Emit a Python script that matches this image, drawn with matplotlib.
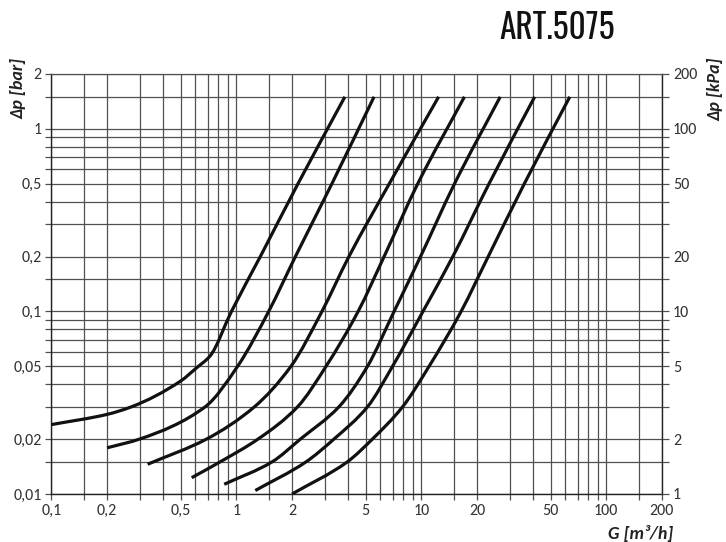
import numpy as np
import matplotlib
matplotlib.use('Agg')
import matplotlib.pyplot as plt
from matplotlib.ticker import FixedLocator, NullFormatter
from matplotlib.path import Path
from matplotlib.patches import PathPatch

# flow G [m3/h] and pressure drop dp [bar]
flow_1 = [0.1, 0.2, 0.27, 0.5, 0.61, 0.72, 0.94, 1.347, 2.15, 3.86]
dp_1 = [0.024, 0.0273, 0.030, 0.0416, 0.0492, 0.057, 0.1, 0.2, 0.5, 1.5]
flow_2 = [0.2, 0.30, 0.677, 1.014, 1.494, 2.085, 3.28, 5.55]
dp_2 = [0.0179, 0.02, 0.03, 0.05, 0.1, 0.2, 0.5, 1.5]
flow_3 = [0.331, 0.69, 1.25, 1.97, 2.9, 4.06, 6.70, 12.4]
dp_3 = [0.01455, 0.02, 0.03, 0.05, 0.1, 0.2, 0.5, 1.5]
flow_4 = [0.573, 0.817, 1.31, 2.14, 3.05, 4.55, 6.29, 9.55, 17.1]
dp_4 = [0.01228, 0.015, 0.02, 0.03, 0.05, 0.1, 0.2, 0.5, 1.5]
flow_5 = [0.859, 1.56, 2.22, 3.58, 5.11, 7.12, 9.9, 15.1, 26.7]
dp_5 = [0.0113, 0.015, 0.02, 0.03, 0.05, 0.1, 0.2, 0.5, 1.5]
flow_6 = [1.265, 2.38, 3.37, 5.11, 6.98, 10.2, 14.8, 23.2, 41.0]
dp_6 = [0.01045, 0.015, 0.02, 0.03, 0.05, 0.1, 0.2, 0.5, 1.5]
flow_7 = [2.0, 3.98, 5.44, 7.91, 11.0, 16.4, 23.0, 36.0, 63.5]
dp_7 = [0.0100, 0.015, 0.02, 0.03, 0.05, 0.1, 0.2, 0.5, 1.5]

x_ticks = [0.1, 0.2, 0.5, 1, 2, 5, 10, 20, 50, 100, 200]
x_labels = ['0,1', '0,2', '0,5', '1', '2', '5', '10', '20', '50', '100', '200']
y_ticks = [0.01, 0.02, 0.05, 0.1, 0.2, 0.5, 1, 2]
y_labels = ['0,01', '0,02', '0,05', '0,1', '0,2', '0,5', '1', '2']
kpa_ticks = [1, 2, 5, 10, 20, 50, 100, 200]
kpa_labels = ['1', '2', '5', '10', '20', '50', '100', '200']

# grid steps used inside each decade
steps = [1, 1.5, 2, 3, 4, 5, 6, 7, 8, 9]


def smooth_path(xs, ys):
    # monotone cubic (fritsch-butland tangents) through the points, in log space,
    # handed to matplotlib as bezier segments
    u = np.log10(xs)
    v = np.log10(ys)
    h = np.diff(u)
    d = np.diff(v) / h
    n = len(u)
    m = np.zeros(n)
    m[0] = d[0]
    m[-1] = d[-1]
    for i in range(1, n - 1):
        w1 = 2 * h[i] + h[i - 1]
        w2 = h[i] + 2 * h[i - 1]
        m[i] = (w1 + w2) / (w1 / d[i - 1] + w2 / d[i])
    verts = [(u[0], v[0])]
    codes = [Path.MOVETO]
    for i in range(n - 1):
        verts.append((u[i] + h[i] / 3, v[i] + m[i] * h[i] / 3))
        verts.append((u[i + 1] - h[i] / 3, v[i + 1] - m[i + 1] * h[i] / 3))
        verts.append((u[i + 1], v[i + 1]))
        codes += [Path.CURVE4] * 3
    return Path(10.0 ** np.array(verts), codes)


plt.rcParams['font.family'] = ['Carlito', 'Lato', 'DejaVu Sans']

fig = plt.figure(figsize=(7.26, 5.42), dpi=100)
ax = fig.add_axes([0.0709, 0.0886, 0.9118 - 0.0709, 0.8635 - 0.0886])
ax.set_xscale('log')
ax.set_yscale('log')
ax.set_xlim(0.1, 200)
ax.set_ylim(0.01, 2)

x_grid = [s * 10.0 ** e for e in range(-1, 3) for s in steps]
x_grid = [v for v in x_grid if 0.1 <= v <= 200.0001]
y_grid = [s * 10.0 ** e for e in range(-2, 1) for s in steps]
y_grid = [v for v in y_grid if 0.01 <= v <= 2.0001]

ax.xaxis.set_major_locator(FixedLocator(x_ticks))
ax.xaxis.set_minor_locator(FixedLocator(x_grid))
ax.xaxis.set_minor_formatter(NullFormatter())
ax.set_xticklabels(x_labels)
ax.yaxis.set_major_locator(FixedLocator(y_ticks))
ax.yaxis.set_minor_locator(FixedLocator(y_grid))
ax.yaxis.set_minor_formatter(NullFormatter())
ax.set_yticklabels(y_labels)

grid_col = '#505050'
ax.grid(which='both', color=grid_col, lw=0.9)
ax.tick_params(which='both', direction='out', length=4, width=0.9, color=grid_col,
               labelsize=11.5, labelcolor='#333333', pad=3)
for sp in ax.spines.values():
    sp.set_color('#222222')
    sp.set_linewidth(1.0)
ax.spines['top'].set_color(grid_col)
ax.spines['top'].set_linewidth(0.9)

curves = [(flow_1, dp_1), (flow_2, dp_2), (flow_3, dp_3), (flow_4, dp_4),
          (flow_5, dp_5), (flow_6, dp_6), (flow_7, dp_7)]
for fl, dp in curves:
    patch = PathPatch(smooth_path(fl, dp), fill=False, edgecolor='#111111',
                      lw=2.3, capstyle='butt', zorder=3)
    ax.add_patch(patch)

ax2 = ax.twinx()
ax2.set_yscale('log')
ax2.set_ylim(1, 200)
ax2.yaxis.set_major_locator(FixedLocator(kpa_ticks))
ax2.yaxis.set_minor_locator(FixedLocator([v * 100 for v in y_grid]))
ax2.yaxis.set_minor_formatter(NullFormatter())
ax2.set_yticklabels(kpa_labels)
ax2.tick_params(which='both', direction='out', length=5, width=0.9, color=grid_col,
                labelsize=11.5, labelcolor='#333333', pad=3)
for sp in ax2.spines.values():
    sp.set_visible(False)

fig.text(0.026, 0.893, 'Δp [bar]', rotation=90, ha='center', va='top',
         fontsize=13, fontweight='bold', fontstyle='italic', color='#222222')
fig.text(0.985, 0.893, 'Δp [kPa]', rotation=90, ha='center', va='top',
         fontsize=13, fontweight='bold', fontstyle='italic', color='#222222')
fig.text(0.927, 0.0166, 'G [m³/h]', ha='right', va='center',
         fontsize=13, fontweight='bold', fontstyle='italic', color='#222222')
fig.text(0.768, 0.948, 'ART.5075', ha='center', va='center', fontsize=24,
         color='#111111', family=['Oswald', 'Barlow Condensed', 'DejaVu Sans'])

fig.savefig('out.png', dpi=100)
